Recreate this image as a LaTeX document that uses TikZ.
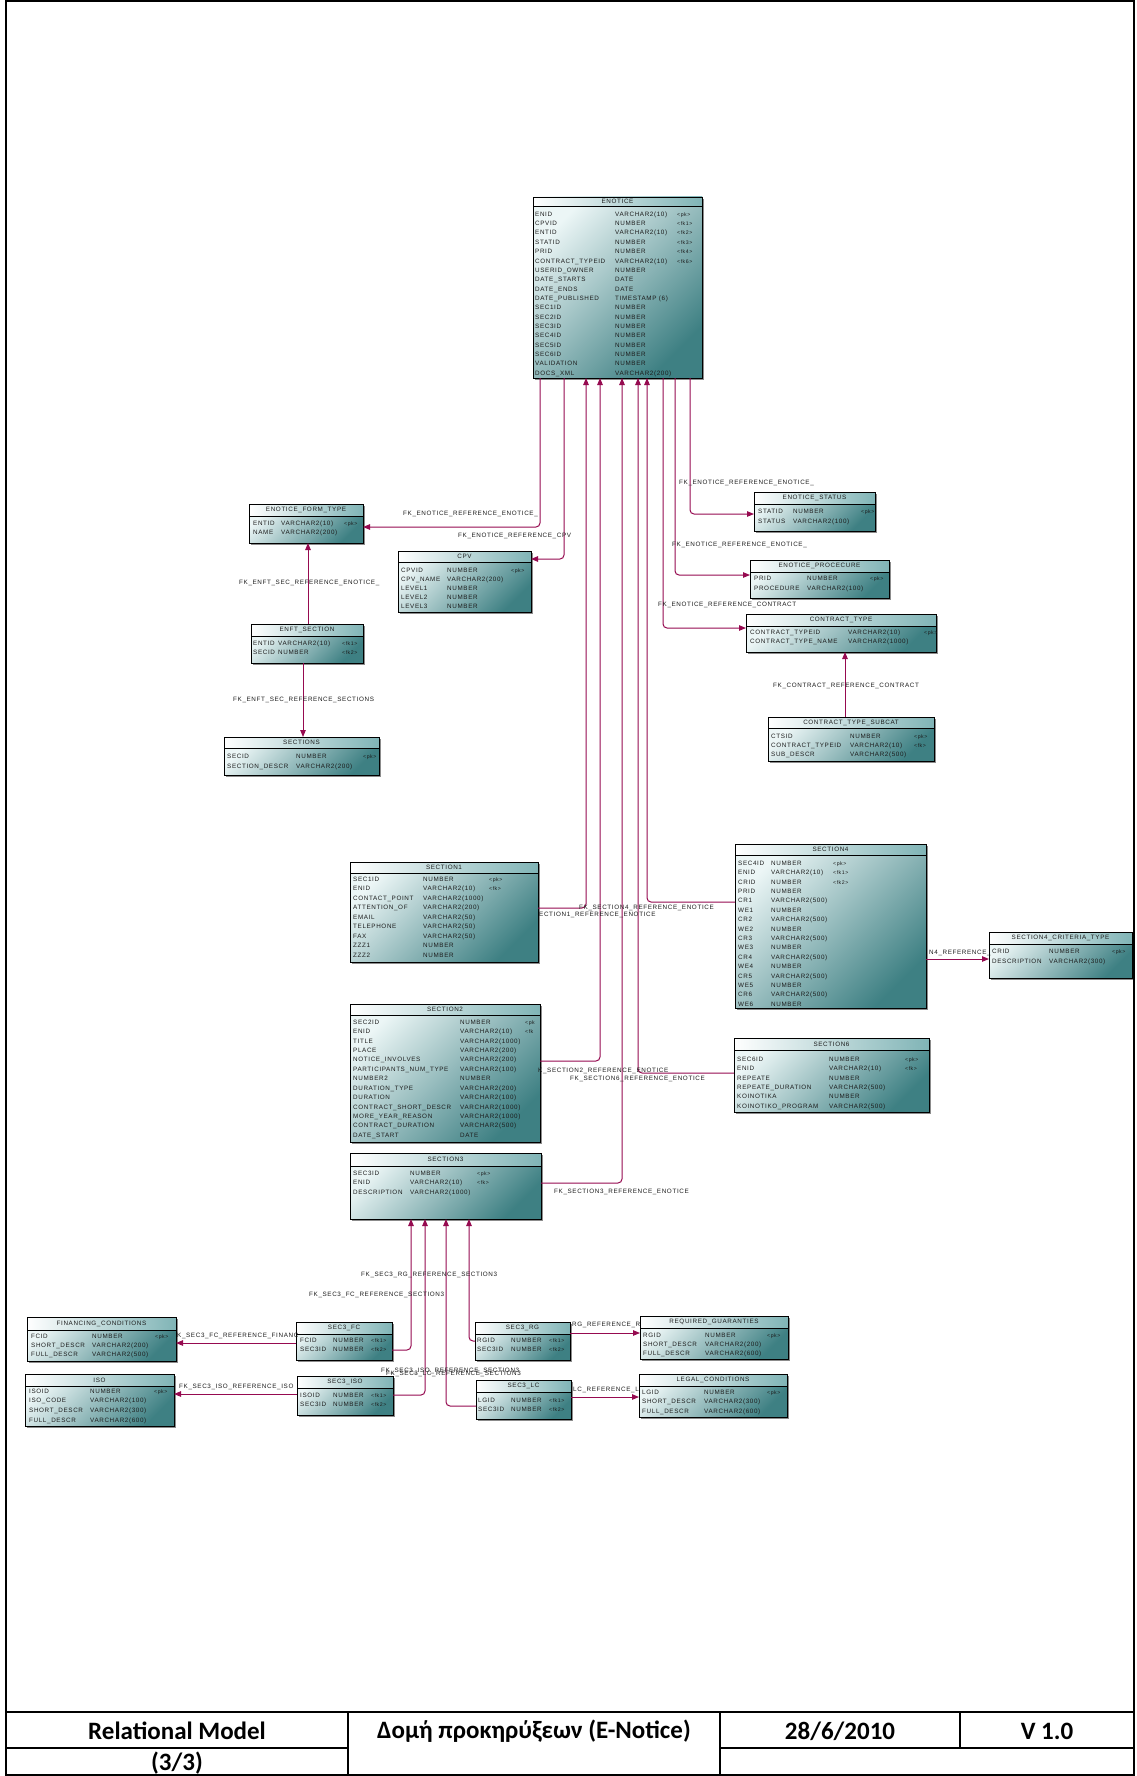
\documentclass[tikz,border=0pt]{standalone}
\usepackage{fontspec}
\usepackage{array}
\setmainfont{Liberation Sans}
\newfontfamily\tf[LetterSpace=10]{Liberation Sans}
\newfontfamily\ff{Carlito}
\usetikzlibrary{arrows.meta}
\definecolor{fkc}{RGB}{150,10,80}
\definecolor{tlight}{RGB}{236,246,246}
\definecolor{tmid}{RGB}{150,198,199}
\definecolor{tdark}{RGB}{62,128,131}
\definecolor{hdark}{RGB}{128,180,182}
\definecolor{txt}{RGB}{28,28,28}
\newcommand\kk[1]{{\fontsize{5.2}{6}\selectfont #1}}
\tikzset{
  tshadow/.style={fill=black!45},
  tbody/.style={draw=black, line width=0.7pt, inner sep=0pt, outer sep=0pt,
    top color=tlight, middle color=tmid, bottom color=tdark, shading angle=45},
  thead/.style={draw=black, line width=0.7pt, inner sep=0pt, outer sep=0pt,
    left color=white, right color=hdark},
  ttitle/.style={font=\tf\fontsize{6.3}{7}\selectfont, text=txt, inner sep=0pt},
  rowtext/.style={anchor=base west, inner sep=0pt, text=txt},
  fk/.style={draw=fkc, line width=1pt, rounded corners=4pt,
    -{Triangle[length=7pt,width=5.5pt]}},
  lbl/.style={font=\tf\fontsize{6.3}{7}\selectfont, text=txt, inner sep=0pt, anchor=west},
  frame/.style={draw=black, line width=1.2pt},
  foot/.style={font=\ff\bfseries\fontsize{25}{28}\selectfont, text=black, inner sep=0pt},
}
% #1 name, #2 x1, #3 y1, #4 x2, #5 y2, #6 header bottom, #7 title
\newcommand\dbtab[7]{%
  \fill[tshadow] (#2+2,#3+2) rectangle (#4+2,#5+2);
  \node[tbody, minimum width={(#4-#2)*1pt}, minimum height={(#5-#3)*1pt}] (#1) at ({(#2+#4)/2},{(#3+#5)/2}) {};
  \node[thead, minimum width={(#4-#2)*1pt}, minimum height={(#6-#3)*1pt}] (#1-h) at ({(#2+#4)/2},{(#3+#6)/2}) {};
  \node[ttitle] (#1-t) at (#1-h.center) {#7};}
% #1 name, #2 x, #3 baseline of first row, #4 row pitch, #5 col1 width, #6 col2 width, #7 rows
\newcommand\dbrows[7]{%
  \node[rowtext, font=\tf\fontsize{6.3}{#4}\selectfont] (#1-r) at (#2,#3)
    {\begin{tabular}[t]{@{}w{l}{#5pt}@{}w{l}{#6pt}@{}l@{}}#7\end{tabular}};}

\begin{document}
\begin{tikzpicture}[x=1pt,y=-1pt]
\useasboundingbox (0,0) rectangle (1136,1776);
\fill[white] (0,0) rectangle (1136,1776);

% ---------------- tables ----------------
\dbtab{enotice}{533}{197}{702}{378}{206}{ENOTICE}
\dbrows{enotice}{535}{216.3}{9.35}{80}{62}{%
ENID & VARCHAR2(10) & \kk{<pk>}\\
CPVID & NUMBER & \kk{<fk1>}\\
ENTID & VARCHAR2(10) & \kk{<fk2>}\\
STATID & NUMBER & \kk{<fk3>}\\
PRID & NUMBER & \kk{<fk4>}\\
CONTRACT\_TYPEID & VARCHAR2(10) & \kk{<fk6>}\\
USERID\_OWNER & NUMBER & \\
DATE\_STARTS & DATE & \\
DATE\_ENDS & DATE & \\
DATE\_PUBLISHED & TIMESTAMP (6) & \\
SEC1ID & NUMBER & \\
SEC2ID & NUMBER & \\
SEC3ID & NUMBER & \\
SEC4ID & NUMBER & \\
SEC5ID & NUMBER & \\
SEC6ID & NUMBER & \\
VALIDATION & NUMBER & \\
DOCS\_XML & VARCHAR2(200) & }

\dbtab{eft}{249}{504}{363}{543}{516}{ENOTICE\_FORM\_TYPE}
\dbrows{eft}{253}{525.3}{9}{28}{63}{%
ENTID & VARCHAR2(10) & \kk{<pk>}\\
NAME & VARCHAR2(200) & }

\dbtab{cpv}{398}{551}{531}{612}{562}{CPV}
\dbrows{cpv}{401}{572.3}{9}{46}{64}{%
CPVID & NUMBER & \kk{<pk>}\\
CPV\_NAME & VARCHAR2(200) & \\
LEVEL1 & NUMBER & \\
LEVEL2 & NUMBER & \\
LEVEL3 & NUMBER & }

\dbtab{status}{754}{492}{875}{531}{504}{ENOTICE\_STATUS}
\dbrows{status}{758}{513.3}{9.7}{35}{68}{%
STATID & NUMBER & \kk{<pk>}\\
STATUS & VARCHAR2(100) & }

\dbtab{proc}{750}{560}{889}{598}{572}{ENOTICE\_PROCECURE}
\dbrows{proc}{754}{580.3}{10}{53}{63}{%
PRID & NUMBER & \kk{<pk>}\\
PROCEDURE & VARCHAR2(100) & }

\dbtab{ctype}{746}{614}{936}{652}{626}{CONTRACT\_TYPE}
\dbrows{ctype}{750}{634.3}{9}{98}{76}{%
CONTRACT\_TYPEID & VARCHAR2(10) & \kk{<pk>}\\
CONTRACT\_TYPE\_NAME & VARCHAR2(1000) & }

\dbtab{subcat}{768}{717}{934}{761}{728}{CONTRACT\_TYPE\_SUBCAT}
\dbrows{subcat}{771}{738.3}{9}{79}{64}{%
CTSID & NUMBER & \kk{<pk>}\\
CONTRACT\_TYPEID & VARCHAR2(10) & \kk{<fk>}\\
SUB\_DESCR & VARCHAR2(500) & }

\dbtab{enft}{251}{624}{363}{663}{636}{ENFT\_SECTION}
\dbrows{enft}{253}{645.3}{9}{25}{64}{%
ENTID & VARCHAR2(10) & \kk{<fk1>}\\
SECID & NUMBER & \kk{<fk2>}}

\dbtab{sections}{224}{737}{379}{775}{748}{SECTIONS}
\dbrows{sections}{227}{758.3}{10}{69}{67}{%
SECID & NUMBER & \kk{<pk>}\\
SECTION\_DESCR & VARCHAR2(200) & }

\dbtab{section1}{350}{862}{538}{962}{873}{SECTION1}
\dbrows{section1}{353}{881.3}{9.5}{70}{66}{%
SEC1ID & NUMBER & \kk{<pk>}\\
ENID & VARCHAR2(10) & \kk{<fk>}\\
CONTACT\_POINT & VARCHAR2(1000) & \\
ATTENTION\_OF & VARCHAR2(200) & \\
EMAIL & VARCHAR2(50) & \\
TELEPHONE & VARCHAR2(50) & \\
FAX & VARCHAR2(50) & \\
ZZZ1 & NUMBER & \\
ZZZ2 & NUMBER & }

\dbtab{section4}{735}{844}{926}{1008}{855}{SECTION4}
\dbrows{section4}{738}{865.3}{9.4}{33}{62}{%
SEC4ID & NUMBER & \kk{<pk>}\\
ENID & VARCHAR2(10) & \kk{<fk1>}\\
CRID & NUMBER & \kk{<fk2>}\\
PRID & NUMBER & \\
CR1 & VARCHAR2(500) & \\
WE1 & NUMBER & \\
CR2 & VARCHAR2(500) & \\
WE2 & NUMBER & \\
CR3 & VARCHAR2(500) & \\
WE3 & NUMBER & \\
CR4 & VARCHAR2(500) & \\
WE4 & NUMBER & \\
CR5 & VARCHAR2(500) & \\
WE5 & NUMBER & \\
CR6 & VARCHAR2(500) & \\
WE6 & NUMBER & }

\dbtab{crit}{989}{932}{1132}{978}{944}{SECTION4\_CRITERIA\_TYPE}
\dbrows{crit}{992}{953.3}{9.7}{57}{63}{%
CRID & NUMBER & \kk{<pk>}\\
DESCRIPTION & VARCHAR2(300) & }

\dbtab{section2}{350}{1004}{540}{1142}{1015}{SECTION2}
\dbrows{section2}{353}{1024.3}{9.42}{107}{65}{%
SEC2ID & NUMBER & \kk{<pk}\\
ENID & VARCHAR2(10) & \kk{<fk}\\
TITLE & VARCHAR2(1000) & \\
PLACE & VARCHAR2(200) & \\
NOTICE\_INVOLVES & VARCHAR2(200) & \\
PARTICIPANTS\_NUM\_TYPE & VARCHAR2(100) & \\
NUMBER2 & NUMBER & \\
DURATION\_TYPE & VARCHAR2(200) & \\
DURATION & VARCHAR2(100) & \\
CONTRACT\_SHORT\_DESCR & VARCHAR2(1000) & \\
MORE\_YEAR\_REASON & VARCHAR2(1000) & \\
CONTRACT\_DURATION & VARCHAR2(500) & \\
DATE\_START & DATE & }

\dbtab{section6}{734}{1038}{929}{1112}{1050}{SECTION6}
\dbrows{section6}{737}{1061.3}{9.4}{92}{76}{%
SEC6ID & NUMBER & \kk{<pk>}\\
ENID & VARCHAR2(10) & \kk{<fk>}\\
REPEATE & NUMBER & \\
REPEATE\_DURATION & VARCHAR2(500) & \\
KOINOTIKA & NUMBER & \\
KOINOTIKO\_PROGRAM & VARCHAR2(500) & }

\dbtab{section3}{350}{1153}{541}{1219}{1166}{SECTION3}
\dbrows{section3}{353}{1175.3}{9.5}{57}{67}{%
SEC3ID & NUMBER & \kk{<pk>}\\
ENID & VARCHAR2(10) & \kk{<fk>}\\
DESCRIPTION & VARCHAR2(1000) & }

\dbtab{fin}{27}{1317}{176}{1361}{1330}{FINANCING\_CONDITIONS}
\dbrows{fin}{31}{1338.3}{9}{61}{63}{%
FCID & NUMBER & \kk{<pk>}\\
SHORT\_DESCR & VARCHAR2(200) & \\
FULL\_DESCR & VARCHAR2(500) & }

\dbtab{iso}{25}{1374}{174}{1426}{1386}{ISO}
\dbrows{iso}{29}{1393.3}{9.6}{61}{64}{%
ISOID & NUMBER & \kk{<pk>}\\
ISO\_CODE & VARCHAR2(100) & \\
SHORT\_DESCR & VARCHAR2(300) & \\
FULL\_DESCR & VARCHAR2(600) & }

\dbtab{fc}{296}{1322}{392}{1360}{1334}{SEC3\_FC}
\dbrows{fc}{300}{1342.3}{9.5}{33}{38}{%
FCID & NUMBER & \kk{<fk1>}\\
SEC3ID & NUMBER & \kk{<fk2>}}

\dbtab{siso}{297}{1376}{393}{1415}{1388}{SEC3\_ISO}
\dbrows{siso}{300}{1397.3}{9.3}{33}{38}{%
ISOID & NUMBER & \kk{<fk1>}\\
SEC3ID & NUMBER & \kk{<fk2>}}

\dbtab{rg}{475}{1322}{570}{1360}{1334}{SEC3\_RG}
\dbrows{rg}{477}{1342.3}{9.5}{34}{38}{%
RGID & NUMBER & \kk{<fk1>}\\
SEC3ID & NUMBER & \kk{<fk2>}}

\dbtab{req}{640}{1316}{788}{1359}{1328}{REQUIRED\_GUARANTIES}
\dbrows{req}{643}{1337.3}{9}{62}{62}{%
RGID & NUMBER & \kk{<pk>}\\
SHORT\_DESCR & VARCHAR2(200) & \\
FULL\_DESCR & VARCHAR2(600) & }

\dbtab{lc}{476}{1380}{571}{1419}{1392}{SEC3\_LC}
\dbrows{lc}{478}{1402.3}{9.3}{33}{38}{%
LGID & NUMBER & \kk{<fk1>}\\
SEC3ID & NUMBER & \kk{<fk2>}}

\dbtab{legal}{639}{1374}{787}{1417}{1386}{LEGAL\_CONDITIONS}
\dbrows{legal}{642}{1394.3}{9.5}{62}{63}{%
LGID & NUMBER & \kk{<pk>}\\
SHORT\_DESCR & VARCHAR2(300) & \\
FULL\_DESCR & VARCHAR2(600) & }

% ---------------- connectors ----------------
\draw[fk] (enotice.south -| 540,0) |- (eft.east |- 0,527);
\draw[fk] (enotice.south -| 564,0) |- (cpv.east |- 0,559);
\draw[fk] (enotice.south -| 690,0) |- (status.west |- 0,514);
\draw[fk] (enotice.south -| 675,0) |- (proc.west |- 0,575);
\draw[fk] (enotice.south -| 663,0) |- (ctype.west |- 0,628);
\draw[fk] (subcat.north -| 845,0) -- (ctype.south -| 845,0);
\draw[fk] (enft.north -| 308,0) -- (eft.south -| 308,0);
\draw[fk] (enft.south -| 303,0) -- (sections.north -| 303,0);
\draw[fk] (section1.east |- 0,908) -| (enotice.south -| 586,0);
\draw[fk] (section4.west |- 0,902) -| (enotice.south -| 647,0);
\draw[fk] (section2.east |- 0,1061) -| (enotice.south -| 600,0);
\draw[fk] (section6.west |- 0,1073) -| (enotice.south -| 638,0);
\draw[fk] (section3.east |- 0,1183) -| (enotice.south -| 622,0);
\draw[fk] (section4.east |- 0,959) -- (crit.west |- 0,959);
\draw[fk] (fc.west |- 0,1343) -- (fin.east |- 0,1343);
\draw[fk] (siso.west |- 0,1394) -- (iso.east |- 0,1394);
\draw[fk] (rg.east |- 0,1333) -- (req.west |- 0,1333);
\draw[fk] (lc.east |- 0,1397) -- (legal.west |- 0,1397);
\draw[fk] (fc.east |- 0,1350) -| (section3.south -| 411,0);
\draw[fk] (siso.east |- 0,1395) -| (section3.south -| 425,0);
\draw[fk] (rg.west |- 0,1341) -| (section3.south -| 469,0);
\draw[fk] (lc.west |- 0,1406) -| (section3.south -| 446,0);

% ---------------- connector labels ----------------
\node[lbl] (l1) at (403,514) {FK\_ENOTICE\_REFERENCE\_ENOTICE\_};
\node[lbl] (l2) at (458,536) {FK\_ENOTICE\_REFERENCE\_CPV};
\node[lbl] (l3) at (679,483) {FK\_ENOTICE\_REFERENCE\_ENOTICE\_};
\node[lbl] (l4) at (672,545) {FK\_ENOTICE\_REFERENCE\_ENOTICE\_};
\node[lbl] (l5) at (658,605) {FK\_ENOTICE\_REFERENCE\_CONTRACT};
\node[lbl] (l6) at (773,686) {FK\_CONTRACT\_REFERENCE\_CONTRACT};
\node[lbl] (l7) at (239,583) {FK\_ENFT\_SEC\_REFERENCE\_ENOTICE\_};
\node[lbl] (l8) at (233,700) {FK\_ENFT\_SEC\_REFERENCE\_SECTIONS};
\node[lbl] (l9) at (539,915) {ECTION1\_REFERENCE\_ENOTICE};
\node[lbl] (l10) at (579,908) {FK\_SECTION4\_REFERENCE\_ENOTICE};
\node[lbl] (l11) at (538,1071) {K\_SECTION2\_REFERENCE\_ENOTICE};
\node[lbl] (l12) at (570,1079) {FK\_SECTION6\_REFERENCE\_ENOTICE};
\node[lbl] (l13) at (554,1192) {FK\_SECTION3\_REFERENCE\_ENOTICE};
\node[lbl] (l14) at (929,953) {N4\_REFERENCE\_};
\node[lbl] (l15) at (361,1275) {FK\_SEC3\_RG\_REFERENCE\_SECTION3};
\node[lbl] (l16) at (309,1295) {FK\_SEC3\_FC\_REFERENCE\_SECTION3};
\node[lbl] (l17) at (177,1336) {K\_SEC3\_FC\_REFERENCE\_FINANC};
\node[lbl] (l18) at (179,1387) {FK\_SEC3\_ISO\_REFERENCE\_ISO};
\node[lbl] (l19) at (381,1371) {FK\_SEC3\_ISO\_REFERENCE\_SECTION3};
\node[lbl] (l20) at (386,1374) {FK\_SEC3\_LC\_REFERENCE\_SECTION3};
\node[lbl] (l21) at (572,1325) {RG\_REFERENCE\_R};
\node[lbl] (l22) at (573,1390) {LC\_REFERENCE\_L};

% ---------------- frame and title block ----------------
\draw[frame] (6,1) rectangle (1134,1775);
\draw[frame] (6,1712) -- (1134,1712);
\draw[frame] (6,1748) -- (348,1748);
\draw[frame] (720,1748) -- (1134,1748);
\draw[frame] (348,1712) -- (348,1775);
\draw[frame] (720,1712) -- (720,1775);
\draw[frame] (960,1712) -- (960,1748);
\node[foot] (f1) at (177,1731) {Relational Model};
\node[foot] (f2) at (177,1763) {(3/3)};
\node[foot] (f3) at (534,1731) {Δομή προκηρύξεων (E-Notice)};
\node[foot] (f4) at (840,1731) {28/6/2010};
\node[foot] (f5) at (1047,1731) {V 1.0};
\end{tikzpicture}
\end{document}
